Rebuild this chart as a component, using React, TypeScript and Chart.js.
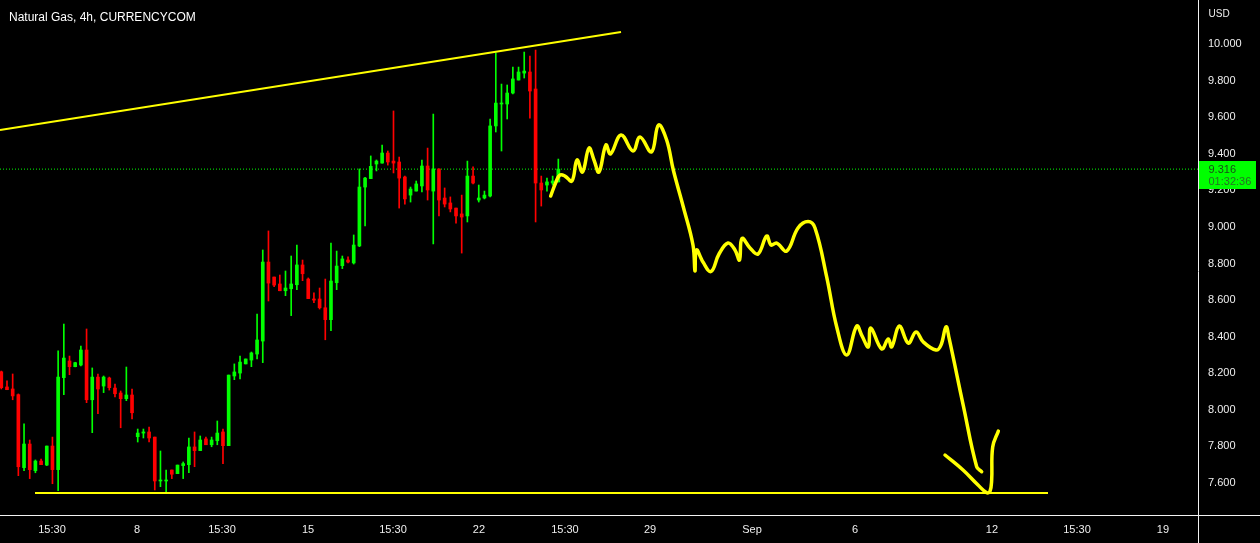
import React, { useEffect, useRef } from "react";
import { Chart, registerables } from "chart.js";

Chart.register(...registerables);

// ---- Data (4h candles, Natural Gas, CURRENCYCOM) ----
const candleOpen = [
  8.208, 8.125, 8.114, 8.083, 7.684, 7.813, 7.667, 7.72, 7.698, 7.802,
  7.673, 8.176, 8.267, 8.236, 8.245, 8.327, 8.055, 8.179, 8.13, 8.174,
  8.119, 8.092, 8.061, 8.081, 7.853, 7.873, 7.879, 7.851, 7.611, 7.611,
  7.671, 7.651, 7.695, 7.7, 7.797, 7.777, 7.841, 7.809, 7.831, 7.879,
  7.804, 8.185, 8.201, 8.251, 8.272, 8.305, 8.376, 8.808, 8.726, 8.688,
  8.651, 8.662, 8.684, 8.792, 8.715, 8.606, 8.606, 8.558, 8.493, 8.695,
  8.788, 8.819, 8.803, 8.896, 9.218, 9.264, 9.344, 9.349, 9.404, 9.36,
  9.355, 9.273, 9.174, 9.196, 9.224, 9.333, 9.196, 9.317, 9.158, 9.131,
  9.103, 9.071, 9.06, 9.278, 9.147, 9.158, 9.169, 9.552, 9.672, 9.672,
  9.732, 9.803, 9.841, 9.847, 9.754, 9.24, 9.229, 9.24, 9.246,
];
const candleHigh = [
  8.212, 8.159, 8.196, 8.087, 7.923, 7.835, 7.726, 7.731, 7.802, 7.851,
  8.322, 8.469, 8.294, 8.26, 8.349, 8.442, 8.229, 8.196, 8.185, 8.179,
  8.141, 8.103, 8.234, 8.114, 7.895, 7.895, 7.906, 7.851, 7.775, 7.671,
  7.671, 7.698, 7.715, 7.846, 7.879, 7.857, 7.851, 7.851, 7.939, 7.895,
  8.19, 8.251, 8.294, 8.278, 8.316, 8.524, 8.874, 8.978, 8.726, 8.737,
  8.759, 8.841, 8.901, 8.819, 8.721, 8.639, 8.666, 8.715, 8.912, 8.868,
  8.841, 8.836, 8.956, 9.317, 9.271, 9.388, 9.366, 9.448, 9.415, 9.634,
  9.382, 9.278, 9.218, 9.251, 9.366, 9.431, 9.617, 9.317, 9.213, 9.164,
  9.103, 9.174, 9.36, 9.328, 9.229, 9.196, 9.59, 9.951, 9.781, 9.776,
  9.874, 9.874, 9.956, 9.934, 9.967, 9.278, 9.267, 9.278, 9.371,
];
const candleLow = [
  8.114, 8.11, 8.055, 7.64, 7.667, 7.624, 7.656, 7.7, 7.695, 7.596,
  7.558, 8.083, 8.192, 8.235, 8.24, 8.039, 7.875, 7.979, 8.094, 8.108,
  8.07, 7.902, 8.05, 7.95, 7.824, 7.846, 7.824, 7.562, 7.58, 7.544,
  7.624, 7.651, 7.624, 7.656, 7.689, 7.777, 7.809, 7.798, 7.809, 7.706,
  7.804, 8.165, 8.169, 8.251, 8.236, 8.278, 8.258, 8.595, 8.673, 8.651,
  8.624, 8.515, 8.657, 8.706, 8.608, 8.586, 8.551, 8.383, 8.433, 8.657,
  8.772, 8.803, 8.797, 8.892, 9.005, 9.264, 9.306, 9.349, 9.338, 9.295,
  9.103, 9.125, 9.136, 9.196, 9.191, 9.147, 8.907, 9.06, 9.109, 9.082,
  9.021, 8.857, 9.027, 9.235, 9.136, 9.153, 9.164, 9.519, 9.415, 9.59,
  9.727, 9.803, 9.814, 9.595, 9.027, 9.114, 9.196, 9.229, 9.246,
];
const candleClose = [
  8.121, 8.11, 8.076, 7.689, 7.813, 7.673, 7.72, 7.7, 7.802, 7.673,
  8.179, 8.283, 8.236, 8.258, 8.327, 8.055, 8.179, 8.114, 8.179, 8.121,
  8.088, 8.061, 8.081, 7.984, 7.873, 7.879, 7.846, 7.611, 7.616, 7.616,
  7.648, 7.698, 7.706, 7.797, 7.777, 7.835, 7.809, 7.835, 7.873, 7.804,
  8.19, 8.207, 8.261, 8.278, 8.311, 8.382, 8.808, 8.693, 8.682, 8.651,
  8.666, 8.688, 8.792, 8.744, 8.608, 8.6, 8.558, 8.493, 8.704, 8.786,
  8.825, 8.808, 8.901, 9.218, 9.267, 9.331, 9.36, 9.404, 9.355, 9.349,
  9.267, 9.153, 9.207, 9.235, 9.333, 9.202, 9.317, 9.147, 9.125, 9.098,
  9.06, 9.054, 9.278, 9.24, 9.158, 9.174, 9.552, 9.677, 9.677, 9.732,
  9.809, 9.847, 9.852, 9.743, 9.24, 9.202, 9.246, 9.251, 9.316,
];

const lastPrice = 9.316;
const countdownText = "01:32:36";

// Trend lines (bar-index, price)
const resistanceX = [-0.23, 109.03];
const resistanceY = [9.53, 10.066];
const supportX = [5.93, 184.15];
const supportY = [7.545, 7.545];

// Hand-drawn projection, first stroke
const drawnAX = [
  96.66, 97.59, 98.29, 99.17, 100.4, 101.28, 102.25, 103.39, 104.27, 105.15,
  106.38, 107.18, 109.03, 111.14, 112.37, 114.39, 115.62, 117.06, 118.23, 119.99,
  121.69, 122.04, 122.31, 123.45, 124.86, 126.27, 127.85, 129.08, 129.87, 130.31,
  131.72, 133.13, 134.66, 135.42, 136.42, 138.18, 140.17, 141.93, 143.16, 145.22,
  146.98, 148.74, 150.49, 151.43, 152.54, 152.96, 154.89, 156.05, 156.65, 157.99,
  159.57, 160.93, 162.21, 164.45, 165.32, 166.21, 166.74, 169.23, 171.6, 172.48,
];
const drawnAY = [
  9.169, 9.246, 9.284, 9.278, 9.251, 9.366, 9.3, 9.431, 9.366, 9.3,
  9.448, 9.399, 9.503, 9.415, 9.492, 9.41, 9.557, 9.475, 9.311, 9.109,
  8.901, 8.759, 8.874, 8.808, 8.756, 8.852, 8.912, 8.874, 8.819, 8.937,
  8.885, 8.852, 8.95, 8.901, 8.912, 8.868, 8.994, 9.029, 8.994, 8.726,
  8.453, 8.3, 8.458, 8.404, 8.344, 8.447, 8.333, 8.387, 8.344, 8.458,
  8.365, 8.426, 8.371, 8.327, 8.354, 8.454, 8.393, 8.026, 7.689, 7.662,
];
// Hand-drawn projection, second stroke
const drawnBX = [166.03, 169.2, 171.84, 173.37, 173.94, 174.24, 174.42, 175.41];
const drawnBY = [7.753, 7.671, 7.589, 7.547, 7.554, 7.616, 7.797, 7.884];

// Axis ticks
const xTickPos = [8.92, 23.87, 38.83, 53.96, 68.91, 84.04, 99.17, 114.13, 132.07, 150.19, 174.29, 189.25, 204.38];
const xTickLabels = ["15:30", "8", "15:30", "15", "15:30", "22", "15:30", "29", "Sep", "6", "12", "15:30", "19"];
const yTickValues = [7.6, 7.8, 8.0, 8.2, 8.4, 8.6, 8.8, 9.0, 9.2, 9.4, 9.6, 9.8, 10.0];

const chartTitle = "Natural Gas, 4h, CURRENCYCOM";
const currencyLabel = "USD";

// ---- Styles ----
const GREEN = "#00ff00";
const RED = "#ff0000";
const YELLOW = "#ffff00";
const TEXT = "#eeeeee";
const FONT = '"Liberation Sans", Arial, sans-serif';
const X_MIN = -0.229;
const X_MAX = 210.54;
const Y_MIN = 7.425;
const Y_MAX = 10.2406;

const overlayPlugin = {
  id: "overlay",
  beforeDraw(chart: any) {
    const ctx = chart.ctx;
    ctx.save();
    ctx.fillStyle = "#000000";
    ctx.fillRect(0, 0, chart.width, chart.height);
    ctx.restore();
  },
  afterDraw(chart: any) {
    const { ctx, chartArea } = chart;
    ctx.save();
    const xr = Math.round(chartArea.right) + 0.5;
    const yb = Math.round(chartArea.bottom) + 0.5;
    ctx.strokeStyle = "#f2f2f2";
    ctx.lineWidth = 1;
    ctx.beginPath();
    ctx.moveTo(xr, 0);
    ctx.lineTo(xr, chart.height);
    ctx.moveTo(0, yb);
    ctx.lineTo(chart.width, yb);
    ctx.stroke();

    ctx.fillStyle = "#ffffff";
    ctx.textBaseline = "alphabetic";
    ctx.textAlign = "left";
    ctx.font = `12px ${FONT}`;
    ctx.fillText(chartTitle, 9, 21);

    ctx.fillStyle = TEXT;
    ctx.font = `10px ${FONT}`;
    ctx.fillText(currencyLabel, xr + 10, 17);

    const py = Math.round(chart.scales.y.getPixelForValue(lastPrice));
    ctx.fillStyle = GREEN;
    ctx.fillRect(xr + 0.5, py - 8, 57, 28);
    ctx.textBaseline = "middle";
    ctx.fillStyle = "#1a4a1a";
    ctx.font = `11px ${FONT}`;
    ctx.fillText(lastPrice.toFixed(3), xr + 10, py + 1);
    ctx.fillStyle = "#267026";
    ctx.fillText(countdownText, xr + 10, py + 13);
    ctx.restore();
  },
};

export default function App() {
  const ref = useRef<HTMLCanvasElement>(null);

  useEffect(() => {
    const canvas = ref.current;
    if (!canvas) return;
    const idx = candleOpen.map((_, i) => i);
    const colors = idx.map((i) => (candleClose[i] >= candleOpen[i] ? GREEN : RED));

    const chart = new Chart(canvas, {
      type: "bar",
      data: {
        datasets: [
          {
            type: "line",
            label: "projection-1",
            data: drawnAX.map((x, i) => ({ x, y: drawnAY[i] })),
            borderColor: YELLOW,
            borderWidth: 3.5,
            tension: 0.4,
            pointRadius: 0,
            borderCapStyle: "round",
            borderJoinStyle: "round",
            fill: false,
            order: 0,
          } as any,
          {
            type: "line",
            label: "projection-2",
            data: drawnBX.map((x, i) => ({ x, y: drawnBY[i] })),
            borderColor: YELLOW,
            borderWidth: 3.5,
            tension: 0.4,
            pointRadius: 0,
            borderCapStyle: "round",
            borderJoinStyle: "round",
            fill: false,
            order: 0,
          } as any,
          {
            type: "line",
            label: "resistance",
            data: resistanceX.map((x, i) => ({ x, y: resistanceY[i] })),
            borderColor: YELLOW,
            borderWidth: 2,
            pointRadius: 0,
            fill: false,
            order: 0,
          } as any,
          {
            type: "line",
            label: "support",
            data: supportX.map((x, i) => ({ x, y: supportY[i] })),
            borderColor: YELLOW,
            borderWidth: 2,
            pointRadius: 0,
            fill: false,
            order: 0,
          } as any,
          {
            type: "bar",
            label: "bodies",
            data: idx.map((i) => ({ x: i, y: [candleOpen[i], candleClose[i]] })),
            backgroundColor: colors,
            barThickness: 3,
            minBarLength: 1,
            grouped: false,
            borderWidth: 0,
            order: 2,
          } as any,
          {
            type: "bar",
            label: "wicks",
            data: idx.map((i) => ({ x: i, y: [candleLow[i], candleHigh[i]] })),
            backgroundColor: colors,
            barThickness: 1,
            grouped: false,
            borderWidth: 0,
            order: 3,
          } as any,
          {
            type: "line",
            label: "last",
            data: [
              { x: X_MIN, y: lastPrice },
              { x: X_MAX, y: lastPrice },
            ],
            borderColor: GREEN,
            borderWidth: 1,
            borderDash: [1, 2],
            pointRadius: 0,
            fill: false,
            order: 4,
          } as any,
        ],
      },
      options: {
        responsive: false,
        animation: false,
        events: [],
        layout: { padding: 0 },
        plugins: {
          legend: { display: false },
          tooltip: { enabled: false },
          title: { display: false },
        },
        scales: {
          x: {
            type: "linear",
            min: X_MIN,
            max: X_MAX,
            offset: false,
            grid: { display: false, drawTicks: false },
            border: { display: false },
            ticks: {
              autoSkip: false,
              maxRotation: 0,
              padding: 8,
              color: TEXT,
              font: { family: FONT, size: 11 },
              callback: (_v: any, i: number) => xTickLabels[i] ?? "",
            },
            afterBuildTicks: (s: any) => {
              s.ticks = xTickPos.map((v) => ({ value: v }));
            },
            afterFit: (s: any) => {
              s.height = 28;
              s.paddingLeft = 0;
              s.paddingRight = 0;
            },
          },
          y: {
            type: "linear",
            position: "right",
            min: Y_MIN,
            max: Y_MAX,
            grid: { display: false, drawTicks: false },
            border: { display: false },
            ticks: {
              padding: 10,
              color: TEXT,
              font: { family: FONT, size: 11 },
              callback: (v: any) => Number(v).toFixed(3),
            },
            afterBuildTicks: (s: any) => {
              s.ticks = yTickValues.map((v) => ({ value: v }));
            },
            afterFit: (s: any) => {
              s.width = 62;
              s.paddingTop = 0;
              s.paddingBottom = 0;
            },
          },
        },
      } as any,
      plugins: [overlayPlugin],
    });
    return () => chart.destroy();
  }, []);

  return (
    <div style={{ position: "fixed", left: 0, top: 0, width: 1260, height: 543, background: "#000" }}>
      <canvas ref={ref} width={1260} height={543} style={{ display: "block" }} />
    </div>
  );
}
